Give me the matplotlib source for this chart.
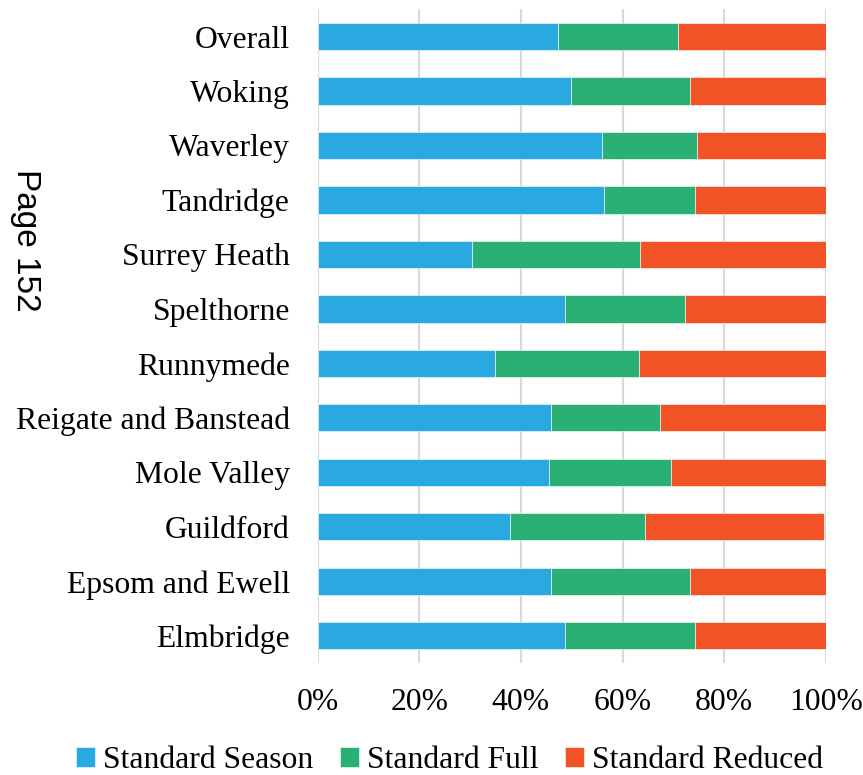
import matplotlib.pyplot as plt
import numpy as np

# boroughs listed bottom to top
areas = ['Elmbridge', 'Epsom and Ewell', 'Guildford', 'Mole Valley',
         'Reigate and Banstead', 'Runnymede', 'Spelthorne', 'Surrey Heath',
         'Tandridge', 'Waverley', 'Woking', 'Overall']
season = [48.6, 45.9, 37.8, 45.6, 46.0, 35.0, 48.6, 30.3, 56.4, 56.0, 49.9, 47.2]
full = [25.6, 27.3, 26.6, 24.0, 21.3, 28.2, 23.6, 33.1, 17.8, 18.6, 23.3, 23.8]
reduced = [25.8, 26.8, 35.2, 30.4, 32.7, 36.8, 27.8, 36.6, 25.8, 25.4, 26.8, 29.0]

series = ['Standard Season', 'Standard Full', 'Standard Reduced']
colors = ['#29A9E0', '#2AAF74', '#F15326']

plt.rcParams['font.family'] = ['Liberation Serif']

fig = plt.figure(figsize=(8.63, 7.75), dpi=100)
ax = fig.add_axes([0.368, 0.1445, 0.589, 0.8435])

y = np.arange(len(areas))
left = np.zeros(len(areas))
for name, vals, c in zip(series, [season, full, reduced], colors):
    ax.barh(y, vals, left=left, height=0.5, color=c, label=name,
            edgecolor='white', linewidth=0.4, zorder=3)
    left += np.array(vals)

ax.set_xlim(0, 100)
ax.set_ylim(-0.5, len(areas) - 0.5)
ax.set_yticks(y)
ax.set_yticklabels(areas, fontsize=22.8)
ax.set_xticks(np.arange(0, 101, 20))
ax.set_xticklabels([f'{v}%' for v in range(0, 101, 20)], fontsize=22.8)
ax.tick_params(axis='y', length=0, pad=20)
ax.tick_params(axis='x', length=0, pad=18)
ax.grid(axis='x', color='#d9d9d9', linewidth=1.5, zorder=0)
for s in ax.spines.values():
    s.set_visible(False)

fig.text(0.03, 0.69, 'Page 152', rotation=270, fontsize=24,
         family='Liberation Sans', ha='center', va='center')

fig.legend(loc='center', bbox_to_anchor=(0.521, 0.019), ncol=3,
           frameon=False, fontsize=22.8, handlelength=0.6, handleheight=0.6,
           handletextpad=0.25, columnspacing=0.85, borderaxespad=0)

fig.savefig('out.png', dpi=100)
